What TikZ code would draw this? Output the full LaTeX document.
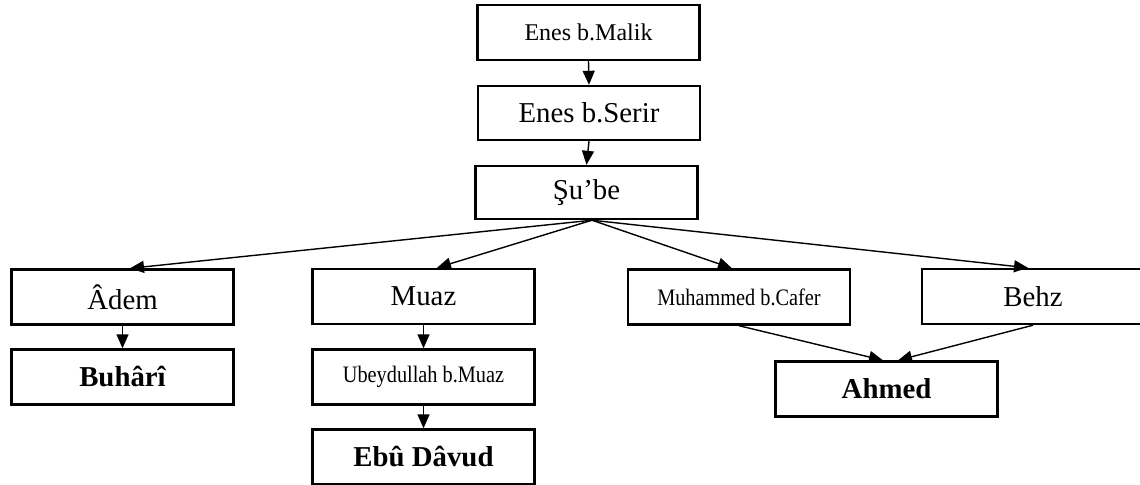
\documentclass[tikz,border=0pt]{standalone}
\usepackage{fontspec}
\setmainfont{Liberation Serif}
\usetikzlibrary{arrows.meta}

\newcommand{\narrowtext}[1]{\scalebox{0.86}[1]{#1}}

\begin{document}
\begin{tikzpicture}[x=0.5pt,y=-0.5pt,
box/.style={draw=black,line width=1.2pt,inner sep=0pt,minimum width=111pt,minimum height=27.5pt,font=\fontsize{14.4}{16}\selectfont},
smallbox/.style={box,font=\fontsize{11.8}{13}\selectfont},
namebox/.style={box,font=\fontsize{14.4}{16}\selectfont\bfseries},
link/.style={black,line width=0.7pt,-{Triangle[length=7pt,width=6pt]}}]

\useasboundingbox (0,0) rectangle (1140,484);

%top chain
\node[box,font=\fontsize{12}{14}\selectfont] (malik) at (588.5,32.5) {Enes b.Malik};
\node[box,minimum height=27pt] (serir) at (589,113) {Enes b.Serir};
\node[box,minimum height=26.5pt] (sube) at (586.5,192.5) {Şu’be};

%students
\node[box] (adem) at (122.5,297) {Âdem};
\node[box] (muaz) at (423.5,296.5) {Muaz};
\node[smallbox] (muhammed) at (739,297) {\narrowtext{Muhammed b.Cafer}};
\node[box] (behz) at (1033,296.5) {Behz};

%second row
\node[namebox] (buhari) at (122.5,377) {Buhârî};
\node[smallbox] (ubeydullah) at (423.5,377) {\narrowtext{Ubeydullah b.Muaz}};
\node[namebox] (ebudavud) at (423.5,457) {Ebû Dâvud};
\node[namebox] (ahmed) at (886.5,389) {Ahmed};

%arrows
\draw[link] (malik.south) -- (serir.north);
\draw[link] (serir.south) -- (sube.north);

\draw[link] ([xshift=2.75pt]sube.south) -- ([xshift=3.75pt]adem.north);
\draw[link] ([xshift=2.75pt]sube.south) -- ([xshift=6.75pt]muaz.north);
\draw[link] ([xshift=2.75pt]sube.south) -- ([xshift=-3.5pt]muhammed.north);
\draw[link] ([xshift=2.75pt]sube.south) -- ([xshift=-2.5pt]behz.north);

\draw[link] (adem.south) -- (buhari.north);
\draw[link] (muaz.south) -- (ubeydullah.north);
\draw[link] (ubeydullah.south) -- (ebudavud.north);

\draw[link] (muhammed.south) -- ([xshift=-1.75pt]ahmed.north);
\draw[link] (behz.south) -- ([xshift=5.75pt]ahmed.north);

\end{tikzpicture}
\end{document}
